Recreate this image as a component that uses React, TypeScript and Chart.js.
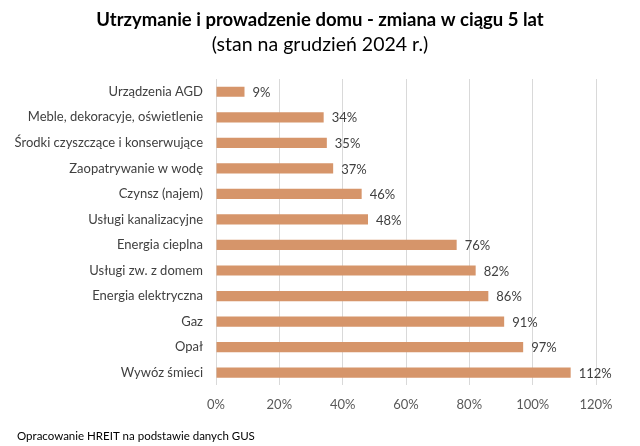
import React, { useEffect, useRef } from "react";
import { Chart, registerables } from "chart.js";

Chart.register(...registerables);

const categories = [
  "Urządzenia AGD",
  "Meble, dekoracyje, oświetlenie",
  "Środki czyszczące i konserwujące",
  "Zaopatrywanie w wodę",
  "Czynsz (najem)",
  "Usługi kanalizacyjne",
  "Energia cieplna",
  "Usługi zw. z domem",
  "Energia elektryczna",
  "Gaz",
  "Opał",
  "Wywóz śmieci",
];
const changes = [9, 34, 35, 37, 46, 48, 76, 82, 86, 91, 97, 112];
const xTicks = [0, 20, 40, 60, 80, 100, 120];

const titleText = "Utrzymanie i prowadzenie domu - zmiana w ciągu 5 lat";
const subtitleText = "(stan na grudzień 2024 r.)";
const footerText = "Opracowanie HREIT na podstawie danych GUS";

const FONT = "Lato, 'Open Sans', sans-serif";
const BAR = "#D6956A";

export default function App() {
  const ref = useRef<HTMLCanvasElement | null>(null);

  useEffect(() => {
    if (!ref.current) return;
    const textPlugin = {
      id: "texts",
      afterDraw(chart: any) {
        const ctx = chart.ctx;
        ctx.save();
        ctx.fillStyle = "#000000";
        ctx.textAlign = "center";
        ctx.textBaseline = "middle";
        ctx.font = `bold 18.5px ${FONT}`;
        ctx.fillText(titleText, 320, 20);
        ctx.font = `19.5px ${FONT}`;
        ctx.fillText(subtitleText, 320, 45);
        ctx.textAlign = "left";
        ctx.font = `11.5px ${FONT}`;
        ctx.fillStyle = "#000000";
        ctx.fillText(footerText, 17, 436);
        ctx.restore();
      },
    };
    const valuePlugin = {
      id: "values",
      afterDatasetsDraw(chart: any) {
        const ctx = chart.ctx;
        const meta = chart.getDatasetMeta(0);
        ctx.save();
        ctx.fillStyle = "#404040";
        ctx.font = `13px ${FONT}`;
        ctx.textAlign = "left";
        ctx.textBaseline = "middle";
        meta.data.forEach((el: any, i: number) => {
          ctx.fillText(`${changes[i]}%`, el.x + 8, el.y + 1);
        });
        ctx.restore();
      },
    };
    const chart = new Chart(ref.current, {
      type: "bar",
      data: {
        labels: categories,
        datasets: [
          {
            data: changes,
            backgroundColor: BAR,
            borderWidth: 0,
            categoryPercentage: 1,
            barPercentage: 0.4,
          },
        ],
      },
      options: {
        indexAxis: "y",
        responsive: false,
        animation: false,
        layout: { padding: { top: 79, right: 44, bottom: 21, left: 0 } },
        plugins: {
          legend: { display: false },
          title: { display: false },
          tooltip: { enabled: false },
        },
        scales: {
          x: {
            min: 0,
            max: 120,
            afterBuildTicks(scale: any) {
              scale.ticks = xTicks.map((v) => ({ value: v }));
            },
            ticks: {
              callback: (v: any) => `${v}%`,
              color: "#595959",
              font: { family: FONT, size: 13 },
              padding: 12,
              maxRotation: 0,
            },
            grid: { color: "#D9D9D9", drawTicks: false },
            border: { display: false },
          },
          y: {
            afterFit(scale: any) {
              scale.width = 216;
            },
            ticks: {
              color: "#404040",
              font: { family: FONT, size: 13 },
              padding: 13,
            },
            grid: { display: false, drawTicks: false },
            border: { display: false },
          },
        },
      },
      plugins: [textPlugin, valuePlugin],
    });
    return () => chart.destroy();
  }, []);

  return (
    <div style={{ position: "absolute", left: 0, top: 0, width: 640, height: 446, background: "#fff" }}>
      <canvas ref={ref} width={640} height={446} />
    </div>
  );
}
